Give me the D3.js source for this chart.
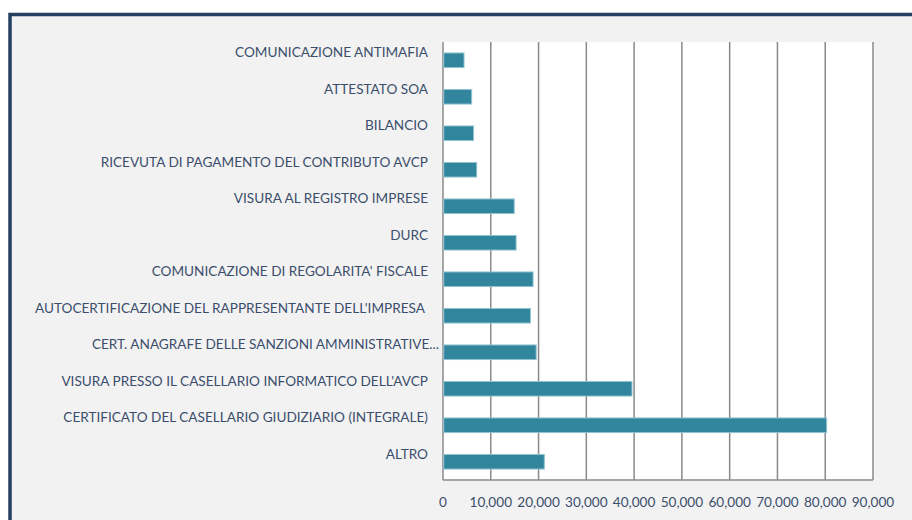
<!DOCTYPE html>
<html>
<head>
<meta charset="utf-8">
<script src="https://cdn.jsdelivr.net/npm/d3@7"></script>
<style>
  body { margin: 0; background: #ffffff; }
  svg { display: block; }
  .label { font-family: Lato, "Open Sans", sans-serif; font-size: 13.6px; fill: #3b4e6c; }
  .grid line { stroke: #8a8a8a; stroke-width: 1.5; }
</style>
</head>
<body>
<svg id="chart" width="912" height="520"></svg>
<script>
// categories top to bottom
var categories = [
  "COMUNICAZIONE ANTIMAFIA",
  "ATTESTATO SOA",
  "BILANCIO",
  "RICEVUTA DI PAGAMENTO DEL CONTRIBUTO AVCP",
  "VISURA AL REGISTRO IMPRESE",
  "DURC",
  "COMUNICAZIONE DI REGOLARITA' FISCALE",
  "AUTOCERTIFICAZIONE DEL RAPPRESENTANTE DELL'IMPRESA ",
  "CERT. ANAGRAFE DELLE SANZIONI AMMINISTRATIVE...",
  "VISURA PRESSO IL CASELLARIO INFORMATICO DELL'AVCP",
  "CERTIFICATO DEL CASELLARIO GIUDIZIARIO (INTEGRALE)",
  "ALTRO"
];
var values = [4400, 6000, 6400, 7050, 14900, 15300, 18850, 18300, 19500, 39550, 80300, 21200];
var ticks = [0, 10000, 20000, 30000, 40000, 50000, 60000, 70000, 80000, 90000];

var params = {
  "plot": { "x": 443, "y": 42, "width": 430, "height": 438 }
};

var translate = function(x, y) { return "translate(" + x + "," + y + ")"; };

var svg = d3.select("#chart");

// outer panel with dark border on top and left
svg.append("rect")
  .attr("x", 10).attr("y", 14.5)
  .attr("width", 912).attr("height", 520)
  .style("fill", "#f2f2f2");
svg.append("path")
  .attr("d", "M10,520 V14.5 H912")
  .style("fill", "none")
  .style("stroke", "#254061")
  .style("stroke-width", 3.5);

var scale = {
  "x": d3.scaleLinear().domain([0, 90000]).range([0, params.plot.width]),
  "y": d3.scaleBand().domain(categories).range([0, params.plot.height]).paddingInner(0.6).paddingOuter(0.3)
};

var plot = svg.append("g").attr("transform", translate(params.plot.x, params.plot.y));

plot.append("rect")
  .attr("width", params.plot.width)
  .attr("height", params.plot.height)
  .style("fill", "#ffffff");

// vertical grid lines
var grid = plot.append("g").attr("class", "grid");
grid.selectAll("line")
  .data(ticks)
  .enter()
  .append("line")
  .attr("x1", function(d) { return scale.x(d); })
  .attr("x2", function(d) { return scale.x(d); })
  .attr("y1", 0)
  .attr("y2", params.plot.height);

grid.append("line")
  .attr("x1", 0).attr("x2", params.plot.width)
  .attr("y1", params.plot.height).attr("y2", params.plot.height);

// bars
plot.selectAll("rect.bar")
  .data(categories)
  .enter()
  .append("rect")
  .attr("class", "bar")
  .attr("x", 0.75)
  .attr("y", function(d) { return scale.y(d); })
  .attr("width", function(d, i) { return scale.x(values[i]) - 0.75; })
  .attr("height", scale.y.bandwidth())
  .style("fill", "#31859c")
  .style("stroke", "#93c3d2")
  .style("stroke-width", 1);

// category labels
var step = scale.y.step();
plot.selectAll("text.cat")
  .data(categories)
  .enter()
  .append("text")
  .attr("class", "label cat")
  .attr("text-anchor", "end")
  .attr("x", function(d) { return d.indexOf("...") >= 0 ? -4 : -15; })
  .attr("y", function(d, i) { return step * i + step / 2 - 8; })
  .attr("dy", "0.35em")
  .style("white-space", "pre")
  .text(function(d) { return d; });

// x tick labels
plot.selectAll("text.tick")
  .data(ticks)
  .enter()
  .append("text")
  .attr("class", "label tick")
  .attr("text-anchor", "middle")
  .attr("x", function(d) { return scale.x(d); })
  .attr("y", params.plot.height + 22)
  .attr("dy", "0.35em")
  .text(function(d) { return d3.format(",")(d); });
</script>
</body>
</html>
